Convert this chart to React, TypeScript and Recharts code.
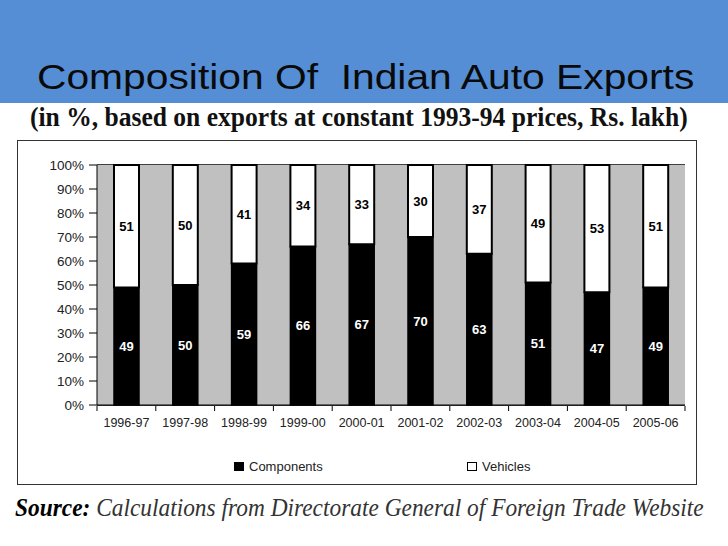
import {
  BarChart, Bar, XAxis, YAxis, CartesianGrid, Legend, LabelList,
} from 'recharts'

const YEARS = ['1996-97', '1997-98', '1998-99', '1999-00', '2000-01', '2001-02', '2002-03', '2003-04', '2004-05', '2005-06']
const COMPONENTS = [49, 50, 59, 66, 67, 70, 63, 51, 47, 49]
const VEHICLES = [51, 50, 41, 34, 33, 30, 37, 49, 53, 51]
const Y_TICKS = [0, 10, 20, 30, 40, 50, 60, 70, 80, 90, 100]

const SANS = "Arial, 'Liberation Sans', sans-serif"
const SERIF = "'Times New Roman', 'Liberation Serif', serif"

const chartData = YEARS.map((y, i) => ({ year: y, components: COMPONENTS[i], vehicles: VEHICLES[i] }))

// plot width / categories, used to put tick marks on category boundaries like excel does
const PLOT_W = 588
const HALF_BAND = PLOT_W / YEARS.length / 2

function YearTick({ x, y, payload, index }: any) {
  const last = index === YEARS.length - 1
  return (
    <g>
      <line x1={x - HALF_BAND} x2={x - HALF_BAND} y1={y - 7} y2={y - 2} stroke="#000" strokeWidth={1} />
      {last && <line x1={x + HALF_BAND} x2={x + HALF_BAND} y1={y - 7} y2={y - 2} stroke="#000" strokeWidth={1} />}
      <text x={x} y={y + 5} dy="0.71em" textAnchor="middle" fontSize={12.5} fontFamily={SANS} fill="#222">{payload.value}</text>
    </g>
  )
}

function LegendBox() {
  const item = (label: string, fill: string, left: number) => (
    <div style={{ position: 'absolute', left, top: 24, display: 'flex', alignItems: 'center', gap: 5 }}>
      <span style={{ width: 8, height: 7, background: fill, border: '1.5px solid #000', display: 'inline-block' }} />
      <span style={{ fontFamily: SANS, fontSize: 13, color: '#222' }}>{label}</span>
    </div>
  )
  return (
    <div style={{ position: 'relative', height: 41 }}>
      {item('Components', '#000', 216)}
      {item('Vehicles', '#fff', 449)}
    </div>
  )
}

export default function App() {
  return (
    <div style={{ position: 'absolute', left: 0, top: 0, width: 728, height: 546, background: '#fff', overflow: 'hidden' }}>
      <div style={{ position: 'absolute', left: 0, top: 0, width: 728, height: 103, background: '#558ed5' }} />
      <div style={{
        position: 'absolute', left: 37, top: 57, fontFamily: SANS, fontSize: 35, color: '#0a0a0a', whiteSpace: 'pre',
        lineHeight: '40px', transform: 'scaleX(1.165)', transformOrigin: 'left top',
      }}>
        Composition Of  Indian Auto Exports
      </div>
      <div style={{
        position: 'absolute', left: 30, top: 101, fontFamily: SERIF, fontWeight: 'bold', fontSize: 27,
        color: '#111', whiteSpace: 'nowrap', transform: 'scaleX(0.946)', transformOrigin: 'left top', lineHeight: '32px',
      }}>
        (in %, based on exports at constant 1993-94 prices, Rs. lakh)
      </div>

      <div style={{ position: 'absolute', left: 17, top: 140, width: 678, height: 343, border: '1.5px solid #333', background: '#fff' }}>
        <BarChart width={678} height={343} data={chartData} margin={{ top: 24, right: 11, left: 0, bottom: 8 }} barSize={25}>
          <rect x={79} y={24} width={PLOT_W} height={240} fill="#c0c0c0" />
          <CartesianGrid vertical={false} stroke="#000" strokeWidth={1.3} strokeDasharray="0" />
          <XAxis dataKey="year" height={30} axisLine={{ stroke: '#000' }} tickLine={false} tick={<YearTick />} interval={0} />
          <YAxis domain={[0, 100]} ticks={Y_TICKS} width={79} tickFormatter={(v: number) => `${v}%`}
            axisLine={{ stroke: '#000' }} tickLine={{ stroke: '#000' }} tickSize={8} tickMargin={5}
            tick={{ fontSize: 13.5, fontFamily: SANS, fill: '#222' }} />
          <Legend verticalAlign="bottom" height={41} content={<LegendBox />} />
          <Bar dataKey="components" stackId="a" fill="#000" stroke="#000" strokeWidth={1.5} isAnimationActive={false}>
            <LabelList dataKey="components" position="center" fill="#fff" fontSize={13} fontWeight="bold" fontFamily={SANS} />
          </Bar>
          <Bar dataKey="vehicles" stackId="a" fill="#fff" stroke="#000" strokeWidth={2} isAnimationActive={false}>
            <LabelList dataKey="vehicles" position="center" fill="#000" fontSize={13} fontWeight="bold" fontFamily={SANS} />
          </Bar>
        </BarChart>
      </div>

      <div style={{
        position: 'absolute', left: 15, top: 493, fontFamily: SERIF, fontStyle: 'italic', fontSize: 25, color: '#333',
        whiteSpace: 'nowrap', lineHeight: '30px', transform: 'scaleX(0.935)', transformOrigin: 'left top',
      }}>
        <b style={{ color: '#000' }}>Source:</b> Calculations from Directorate General of Foreign Trade Website
      </div>
    </div>
  )
}
